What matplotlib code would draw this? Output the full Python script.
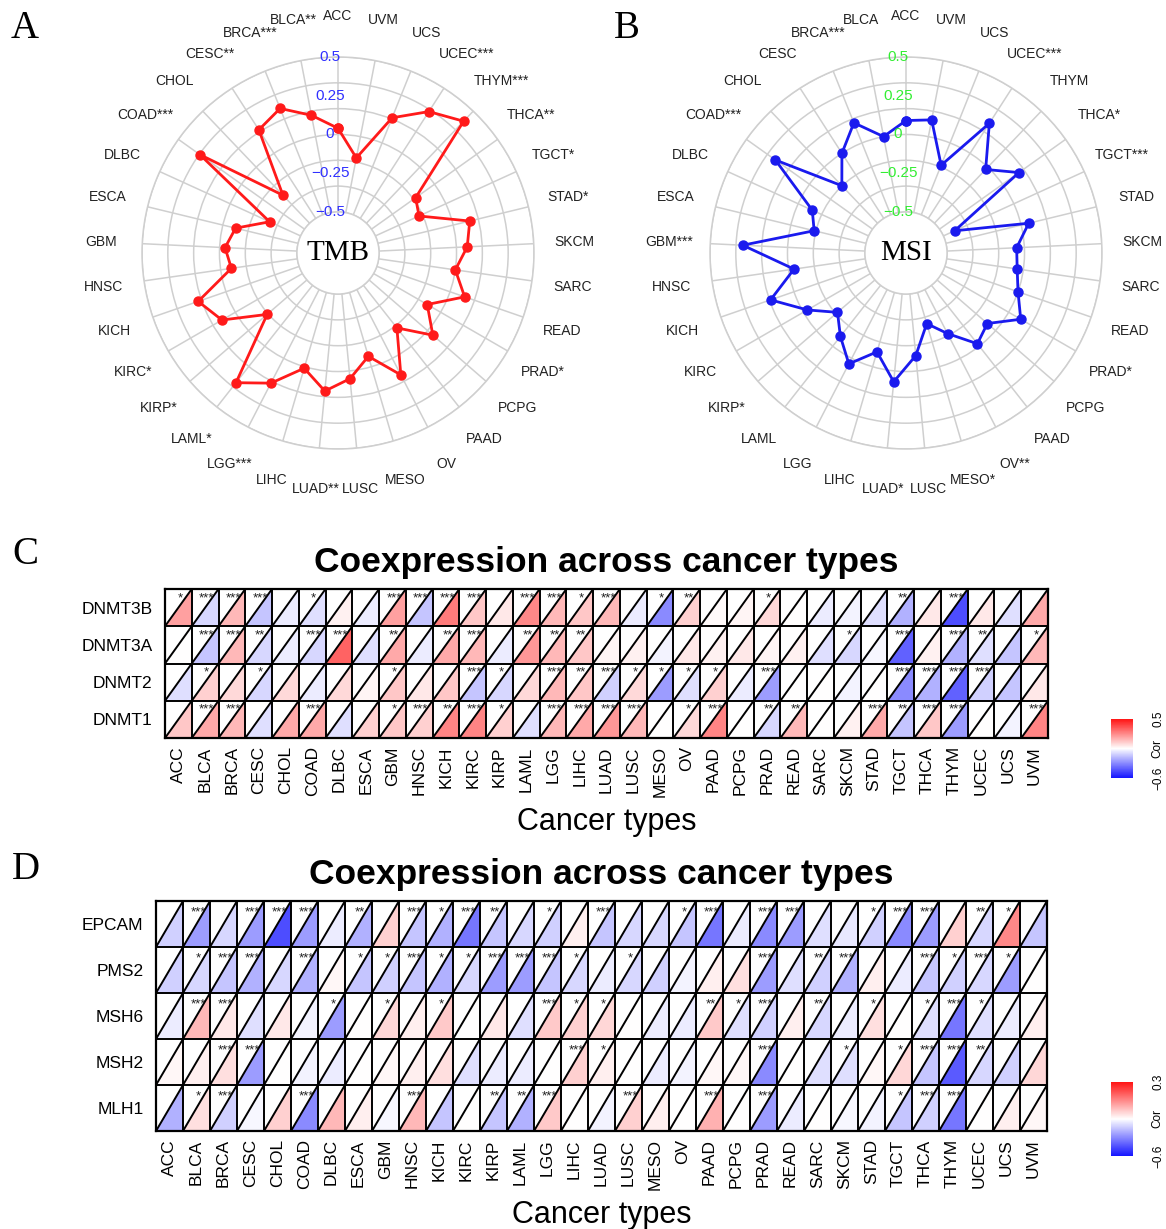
import numpy as np
import matplotlib
matplotlib.use('Agg')
import matplotlib.pyplot as plt
from matplotlib.colors import LinearSegmentedColormap, TwoSlopeNorm
from matplotlib.patches import Polygon
from matplotlib.cm import ScalarMappable
import matplotlib.transforms as mtransforms

plt.rcParams['font.family'] = ['Liberation Sans', 'DejaVu Sans']

# ---------------- data ----------------
cancers = ['ACC', 'BLCA', 'BRCA', 'CESC', 'CHOL', 'COAD', 'DLBC', 'ESCA', 'GBM', 'HNSC',
           'KICH', 'KIRC', 'KIRP', 'LAML', 'LGG', 'LIHC', 'LUAD', 'LUSC', 'MESO', 'OV',
           'PAAD', 'PCPG', 'PRAD', 'READ', 'SARC', 'SKCM', 'STAD', 'TGCT', 'THCA', 'THYM',
           'UCEC', 'UCS', 'UVM']

tmb_values = [0.04, 0.14, 0.24, 0.18, -0.25, 0.33, -0.28, -0.085, -0.035, -0.07,
              0.19, 0.10, -0.16, 0.30, 0.18, 0.01, 0.13, 0.05, -0.07, 0.12,
              -0.15, 0.045, -0.10, 0.10, 0.00, 0.07, 0.11, -0.19, -0.15, 0.41,
              0.32, 0.175, -0.14]
tmb_stars = ['', '**', '***', '**', '', '***', '', '', '', '',
             '', '*', '*', '*', '***', '', '**', '', '', '',
             '', '', '*', '', '', '', '*', '*', '**', '***',
             '***', '', '']

msi_values = [0.09, 0.00, 0.14, 0.00, -0.165, 0.27, -0.10, -0.155, 0.29, -0.035,
              0.16, -0.03, -0.18, -0.08, 0.04, -0.10, 0.07, -0.10, -0.29, -0.18,
              -0.02, -0.07, 0.09, 0.00, -0.04, -0.05, 0.05, -0.42, 0.13, -0.02,
              0.23, -0.155, 0.11]
msi_stars = ['', '', '***', '', '', '***', '', '', '***', '',
             '', '', '*', '', '', '', '*', '', '*', '**',
             '', '', '*', '', '', '', '', '***', '*', '',
             '***', '', '']

radial_ticks = [-0.5, -0.25, 0, 0.25, 0.5]

dnmt_genes = ['DNMT3B', 'DNMT3A', 'DNMT2', 'DNMT1']
dnmt3b = [0.20, -0.10, 0.15, -0.15, -0.05, -0.08, 0.03, -0.05, 0.20, -0.15,
          0.28, 0.12, 0.05, 0.25, 0.15, 0.12, 0.15, -0.05, -0.30, 0.10,
          0.01, 0.02, 0.08, 0.00, -0.05, -0.03, -0.08, -0.20, 0.05, -0.45,
          0.05, -0.08, 0.18]
dnmt3a = [0.00, -0.15, 0.15, -0.10, -0.05, -0.10, 0.33, -0.08, 0.18, -0.05,
          0.18, 0.15, -0.05, 0.22, 0.15, 0.12, 0.02, 0.03, -0.03, 0.05,
          0.03, 0.05, 0.02, 0.03, -0.08, -0.10, -0.02, -0.40, 0.03, -0.20,
          -0.08, -0.15, 0.15]
dnmt2 = [-0.08, 0.10, 0.08, -0.10, 0.08, -0.05, 0.08, 0.02, 0.12, 0.05,
         0.12, -0.15, -0.10, 0.08, 0.15, 0.12, -0.12, 0.08, -0.25, -0.08,
         0.10, -0.05, -0.25, 0.00, 0.00, -0.03, 0.00, -0.30, -0.20, -0.40,
         -0.12, -0.15, 0.05]
dnmt1 = [0.12, 0.18, 0.15, -0.08, 0.18, 0.18, -0.08, 0.10, 0.12, 0.10,
         0.26, 0.26, 0.10, -0.08, 0.15, 0.18, 0.22, 0.15, 0.00, 0.08,
         0.26, 0.00, -0.10, 0.15, 0.00, 0.03, 0.18, -0.15, 0.12, -0.25,
         0.00, -0.03, 0.26]
dnmt3b_sig = ['*', '***', '***', '***', '', '*', '', '', '***', '***',
              '***', '***', '', '***', '***', '*', '***', '', '*', '**',
              '', '', '*', '', '', '', '', '**', '', '***',
              '', '', '']
dnmt3a_sig = ['', '***', '***', '**', '', '***', '***', '', '**', '',
              '**', '***', '', '**', '**', '**', '', '', '', '',
              '', '', '', '', '', '*', '', '***', '', '***',
              '**', '', '*']
dnmt2_sig = ['', '*', '', '*', '', '', '', '', '*', '',
             '', '***', '*', '', '***', '**', '***', '*', '*', '*',
             '*', '', '***', '', '', '', '', '***', '***', '***',
             '***', '', '']
dnmt1_sig = ['', '***', '***', '', '', '***', '', '', '*', '***',
             '**', '***', '*', '', '***', '***', '***', '***', '', '*',
             '***', '', '**', '**', '', '', '***', '**', '***', '***',
             '', '', '***']

mmr_genes = ['EPCAM', 'PMS2', 'MSH6', 'MSH2', 'MLH1']
epcam = [-0.12, -0.25, -0.10, -0.25, -0.45, -0.25, -0.05, -0.20, 0.06, -0.15,
         -0.20, -0.35, -0.15, -0.10, -0.12, 0.02, -0.15, -0.10, -0.10, -0.15,
         -0.35, -0.05, -0.30, -0.25, -0.08, -0.06, -0.12, -0.30, -0.25, 0.06,
         -0.10, 0.15, -0.15]
pms2 = [-0.12, -0.10, -0.15, -0.20, -0.10, -0.20, 0.01, -0.15, -0.12, -0.15,
        -0.20, -0.10, -0.25, -0.25, -0.15, -0.10, -0.05, -0.10, -0.12, -0.03,
        0.02, 0.04, -0.25, -0.08, -0.12, -0.20, 0.02, -0.05, -0.15, -0.12,
        -0.10, -0.25, 0.00]
msh6 = [-0.05, 0.09, 0.03, -0.08, 0.03, -0.03, -0.25, 0.00, 0.05, 0.02,
        0.07, 0.00, 0.03, -0.08, 0.07, 0.06, 0.05, 0.00, -0.05, -0.05,
        0.07, -0.08, -0.12, 0.02, -0.10, -0.05, 0.04, 0.00, -0.08, -0.35,
        -0.08, -0.05, 0.02]
msh2 = [0.01, 0.02, 0.04, -0.25, 0.00, -0.03, -0.05, 0.00, 0.01, 0.02,
        0.04, -0.08, -0.05, -0.05, 0.00, 0.06, 0.02, 0.00, -0.05, -0.03,
        0.01, 0.01, -0.30, 0.00, -0.08, -0.08, 0.01, 0.05, -0.15, -0.42,
        -0.10, -0.12, 0.05]
mlh1 = [-0.20, 0.04, -0.12, -0.02, 0.06, -0.30, 0.09, 0.02, -0.02, 0.09,
        -0.15, 0.00, -0.15, -0.20, 0.07, 0.00, -0.03, 0.06, 0.02, 0.00,
        0.10, 0.00, -0.25, -0.05, 0.00, -0.02, -0.03, -0.15, -0.12, -0.35,
        0.00, 0.02, 0.01]
epcam_sig = ['', '***', '', '***', '***', '***', '', '**', '', '***',
             '*', '***', '**', '', '*', '', '***', '', '', '*',
             '***', '', '***', '***', '', '', '*', '***', '***', '',
             '**', '*', '']
pms2_sig = ['', '*', '***', '***', '', '***', '', '*', '*', '***',
            '*', '*', '***', '***', '***', '*', '', '*', '', '',
            '', '', '***', '', '**', '***', '', '', '***', '*',
            '***', '*', '']
msh6_sig = ['', '***', '***', '', '', '', '*', '', '*', '',
            '*', '', '', '', '***', '*', '*', '', '', '',
            '**', '*', '***', '', '**', '', '*', '', '*', '***',
            '*', '', '']
msh2_sig = ['', '', '***', '***', '', '', '', '', '', '',
            '', '', '', '', '', '***', '*', '', '', '',
            '', '', '***', '', '', '*', '', '*', '***', '***',
            '**', '', '']
mlh1_sig = ['', '*', '***', '', '', '***', '', '', '', '***',
            '', '', '**', '**', '***', '', '', '***', '', '',
            '***', '', '***', '', '', '', '', '*', '***', '***',
            '', '', '']

# ---------------- figure ----------------
W, H = 1166, 1229
fig = plt.figure(figsize=(W / 100, H / 100), dpi=100)


def rect(l, t, w, h):
    return [l / W, 1 - (t + h) / H, w / W, h / H]


def fmt(v):
    return '{:g}'.format(v).replace('-', '\u2212')


def radar(cx, cy, values, stars, color, tick_color, center_text):
    R = 196
    ax = fig.add_axes(rect(cx - R, cy - R, 2 * R, 2 * R), projection='polar')
    ax.set_theta_zero_location('N')
    ax.set_theta_direction(1)
    ax.set_ylim(-0.5, 0.5)
    ax.set_rorigin(-0.765)
    n = len(cancers)
    theta = 2 * np.pi * np.arange(n) / n
    ax.set_thetagrids(np.degrees(theta), labels=[])
    rings = -0.5 + np.arange(7) / 6.0
    ax.set_rgrids(rings, labels=[])
    ax.grid(True, color='#cfcfcf', lw=1.1)
    for sp in ax.spines.values():
        sp.set_color('#cfcfcf')
        sp.set_linewidth(1.1)
    tt = np.append(theta, theta[0])
    vv = np.append(values, values[0])
    ax.plot(tt, vv, color=color, lw=2, marker='o', ms=6.5, clip_on=False, zorder=5)
    for i in range(n):
        ax.text(theta[i], 0.765, cancers[i] + stars[i], ha='center', va='center',
                fontsize=10, color='#222222')
    off = mtransforms.offset_copy(ax.transData, fig=fig, x=-8, y=0, units='dots')
    for v in radial_ticks:
        ax.text(0, v, fmt(v), color=tick_color, fontsize=11, ha='center', va='center',
                transform=off, zorder=6)
    ax.text(0.5, 0.5, center_text, transform=ax.transAxes, ha='center', va='center',
            family='Liberation Serif', fontsize=21)
    return ax


radar(338, 253, tmb_values, tmb_stars, '#ff1a1a', '#3030ff', 'TMB')
radar(906, 253, msi_values, msi_stars, '#1a1aee', '#33ee33', 'MSI')

cmap = LinearSegmentedColormap.from_list('cor', ['#1414ff', '#ffffff', '#ff1414'])


def heatmap(l, t, w, h, genes, rows, sigs, vmin, vmax, cb, title):
    ax = fig.add_axes(rect(l, t, w, h))
    nrow, ncol = len(genes), len(cancers)
    norm = TwoSlopeNorm(vmin=vmin, vcenter=0, vmax=vmax)
    for r in range(nrow):
        y0 = nrow - 1 - r
        for c in range(ncol):
            v = rows[r][c]
            ax.add_patch(Polygon([(c, y0), (c + 1, y0), (c + 1, y0 + 1)], closed=True,
                                 facecolor=cmap(norm(v)), edgecolor='none'))
            ax.plot([c, c + 1], [y0, y0 + 1], color='black', lw=1.4)
            if sigs[r][c]:
                ax.text(c + 0.56, y0 + 0.76, sigs[r][c], ha='center', va='center',
                        fontsize=9.5, color='#222222')
    ax.vlines(np.arange(ncol + 1), 0, nrow, color='black', lw=1.4)
    ax.hlines(np.arange(nrow + 1), 0, ncol, color='black', lw=1.4)
    ax.set_xlim(0, ncol)
    ax.set_ylim(0, nrow)
    ax.set_xticks(np.arange(ncol) + 0.5)
    ax.set_xticklabels(cancers, rotation=90, fontsize=12.5)
    ax.set_yticks(np.arange(nrow) + 0.5)
    ax.set_yticklabels(genes[::-1], fontsize=12.5)
    ax.tick_params(axis='x', length=0, pad=6)
    ax.tick_params(axis='y', length=0, pad=9)
    for sp in ax.spines.values():
        sp.set_linewidth(1.6)
    ax.set_xlabel('Cancer types', fontsize=22, labelpad=7)
    ax.set_title(title, fontsize=25.5, fontweight='bold', pad=12)
    cax = fig.add_axes(rect(*cb))
    cbar = fig.colorbar(ScalarMappable(norm=norm, cmap=cmap), cax=cax, ticks=[vmin, vmax])
    cbar.outline.set_visible(False)
    cax.set_yticklabels([fmt(vmin), fmt(vmax)], rotation=90, va='center', fontsize=8.5)
    cax.tick_params(length=0, pad=14)
    cax.text(2.1, 0.5, 'Cor', transform=cax.transAxes, rotation=90, ha='center',
             va='center', fontsize=8.5)
    return ax


heatmap(165, 589, 883, 149, dnmt_genes, [dnmt3b, dnmt3a, dnmt2, dnmt1],
        [dnmt3b_sig, dnmt3a_sig, dnmt2_sig, dnmt1_sig], -0.6, 0.5,
        (1111, 719, 22, 59), 'Coexpression across cancer types')
heatmap(156, 901, 891, 230, mmr_genes, [epcam, pms2, msh6, msh2, mlh1],
        [epcam_sig, pms2_sig, msh6_sig, msh2_sig, mlh1_sig], -0.6, 0.3,
        (1111, 1082, 22, 74), 'Coexpression across cancer types')

for letter, x, y in [('A', 11, 38), ('B', 614, 38), ('C', 12, 564), ('D', 12, 879)]:
    fig.text(x / W, 1 - y / H, letter, family='Liberation Serif', fontsize=28,
             va='baseline', ha='left')

fig.savefig('out.png', dpi=100)
